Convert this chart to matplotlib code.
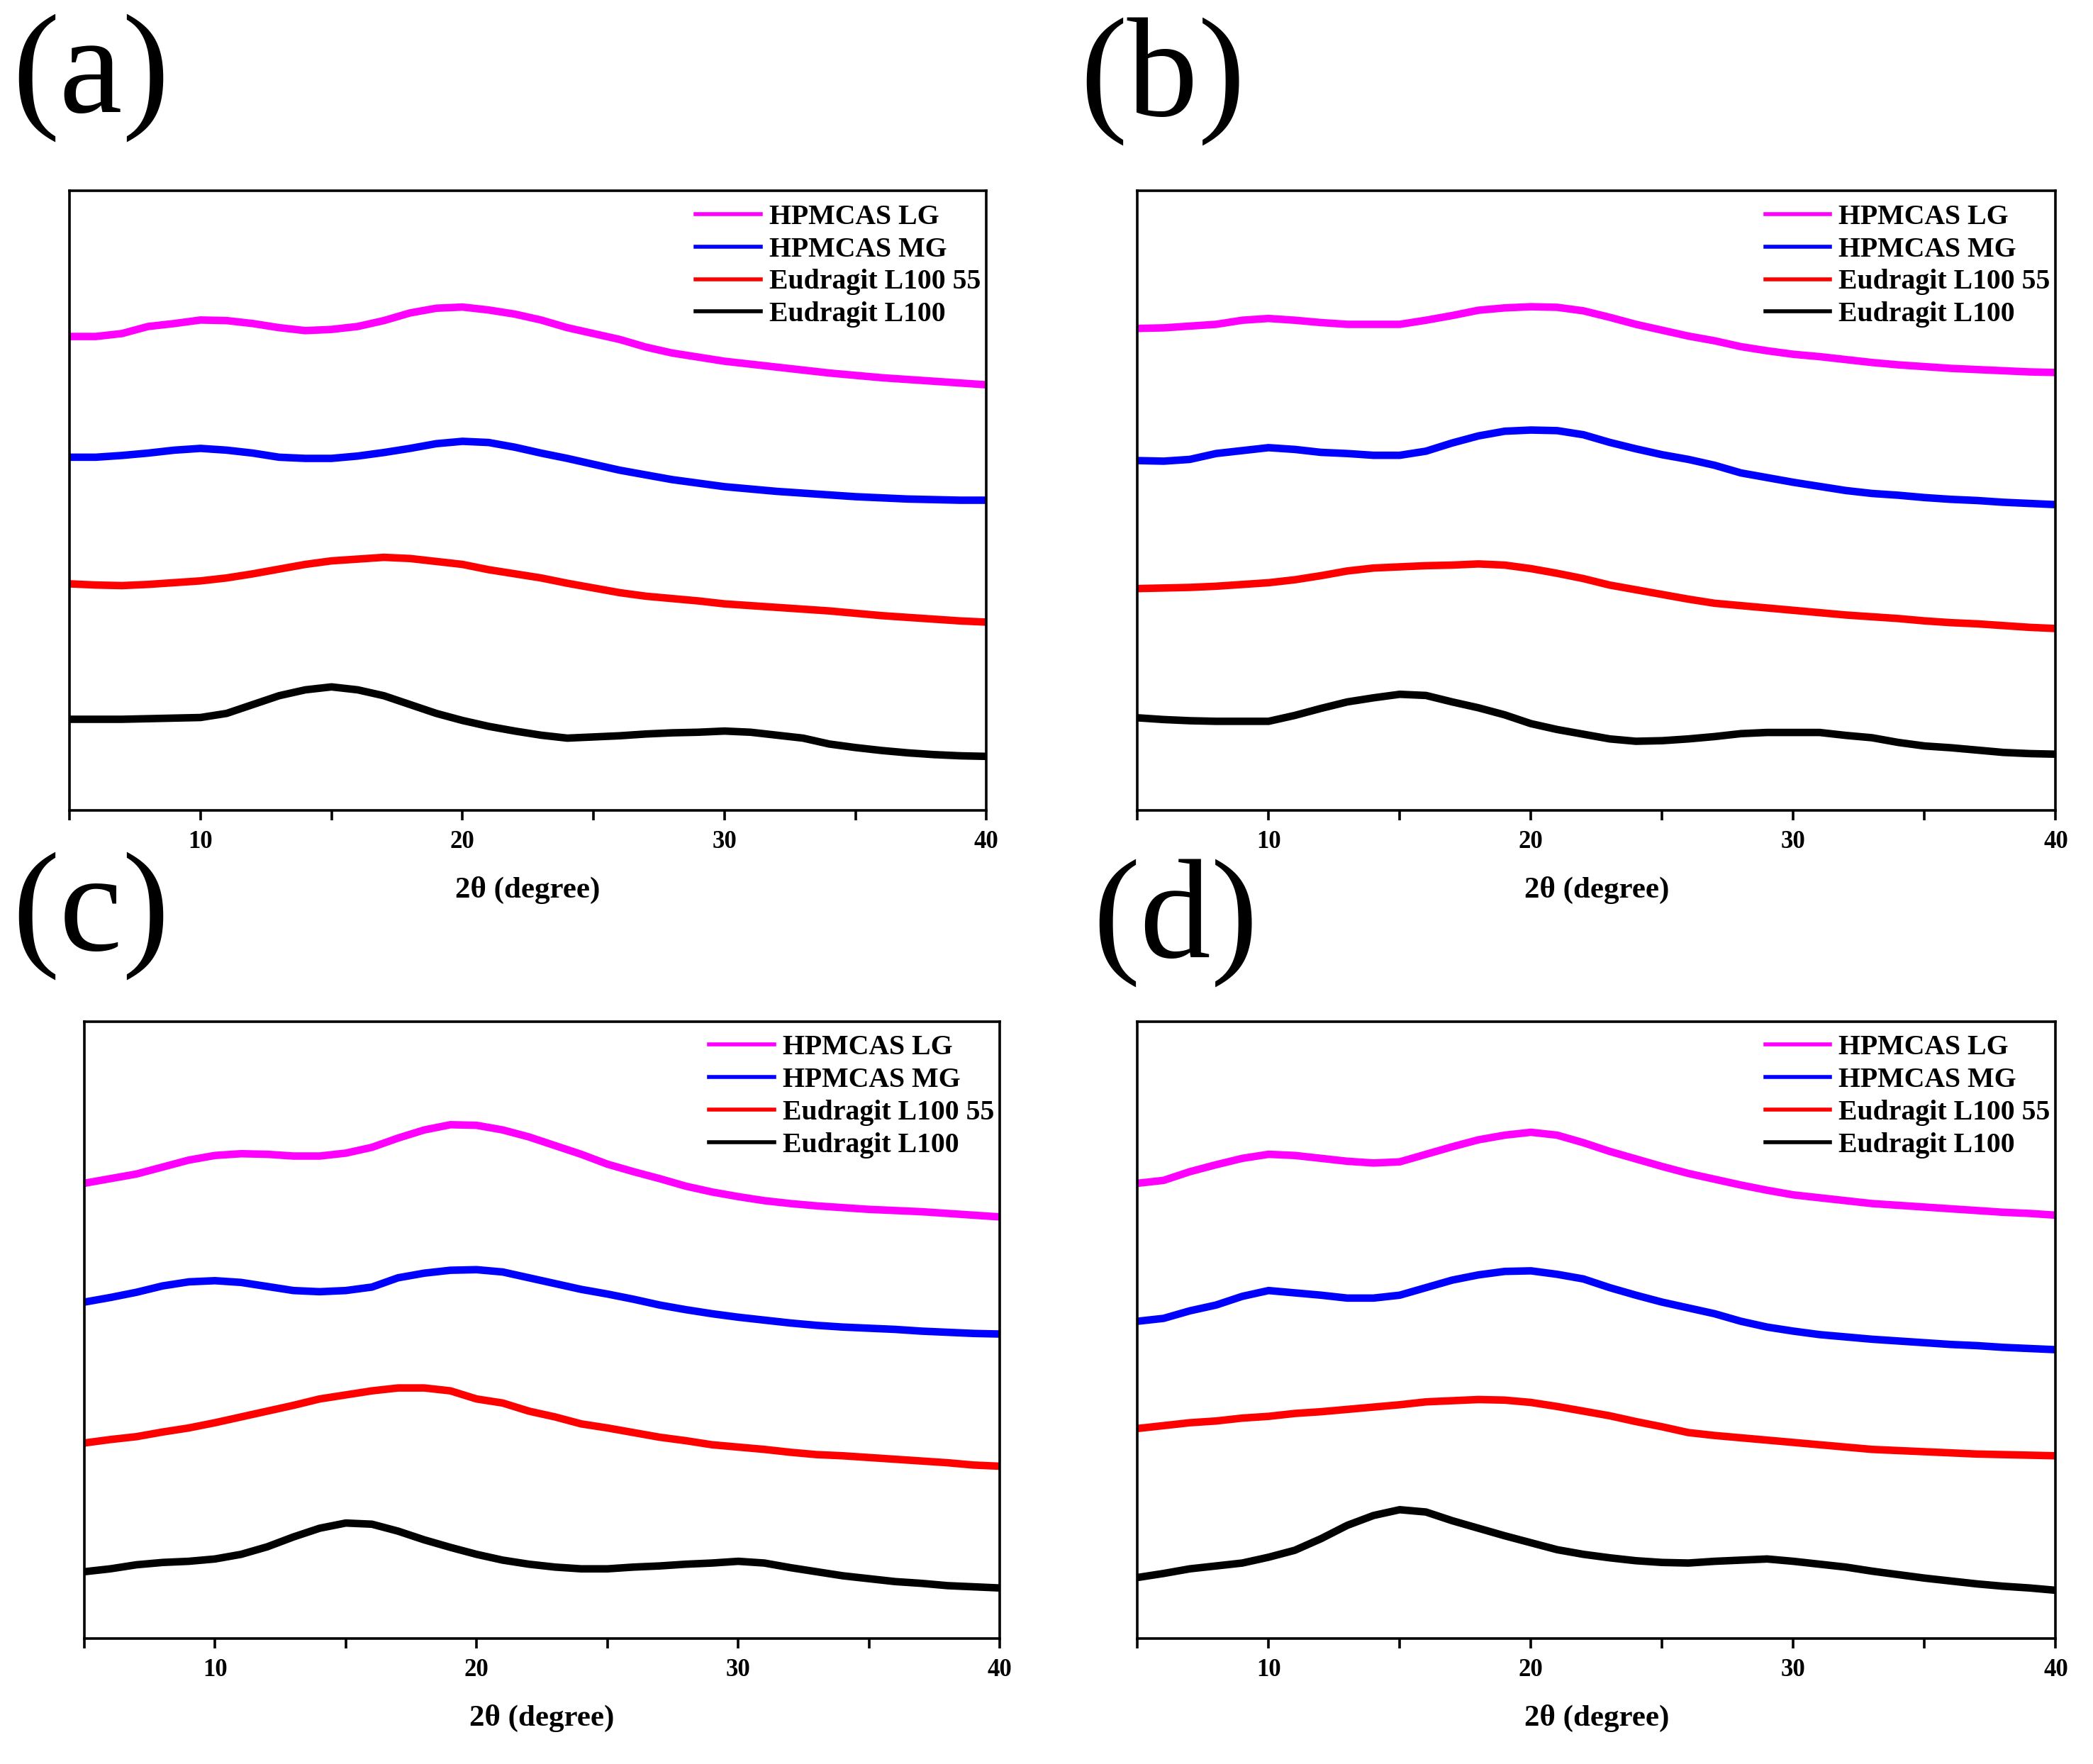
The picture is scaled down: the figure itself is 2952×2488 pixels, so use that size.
import numpy as np
import matplotlib.pyplot as plt
from matplotlib.ticker import MultipleLocator

# 2-theta grid (degrees) at which the curves were read
two_theta = [5, 6, 7, 8, 9, 10, 11, 12, 13, 14, 15, 16, 17, 18, 19, 20, 21, 22,
             23, 24, 25, 26, 27, 28, 29, 30, 31, 32, 33, 34, 35, 36, 37, 38, 39, 40]

labels = ['HPMCAS LG', 'HPMCAS MG', 'Eudragit L100 55', 'Eudragit L100']
colors = ['#ff00ff', '#0000ff', '#ff0000', '#000000']

# --- panel (a) : intensity (a.u., stacked) ---
a_lg = [805, 805, 810, 822, 827, 833, 832, 827, 820, 815, 817, 822, 832, 845, 853, 855, 850, 843,
        833, 820, 810, 800, 787, 777, 770, 763, 758, 753, 748, 743, 739, 735, 732, 729, 726, 723]
a_mg = [600, 600, 603, 607, 612, 615, 612, 607, 600, 598, 598, 602, 608, 615, 623, 627, 625, 617,
        607, 598, 588, 578, 570, 562, 556, 550, 546, 542, 539, 536, 533, 531, 529, 528, 527, 527]
a_l55 = [385, 383, 382, 384, 387, 390, 395, 402, 410, 418, 424, 427, 430, 428, 423, 418, 409, 402,
         395, 386, 378, 370, 364, 360, 356, 351, 348, 345, 342, 339, 335, 331, 328, 325, 322, 320]
a_l100 = [155, 155, 155, 156, 157, 158, 165, 180, 195, 205, 210, 205, 195, 180, 165, 153, 143, 135,
          128, 123, 125, 127, 130, 132, 133, 135, 133, 128, 123, 113, 107, 102, 98, 95, 93, 92]

# --- panel (b) ---
b_lg = [821, 822, 825, 828, 835, 838, 835, 831, 828, 828, 828, 835, 843, 852, 856, 858, 857, 851,
        840, 828, 818, 808, 800, 790, 783, 777, 773, 768, 763, 759, 756, 753, 751, 749, 747, 746]
b_mg = [596, 595, 598, 608, 613, 618, 615, 610, 608, 605, 605, 612, 626, 638, 646, 648, 647, 640,
        627, 616, 606, 598, 588, 575, 567, 559, 552, 545, 540, 537, 533, 530, 528, 525, 523, 521]
b_l55 = [378, 379, 380, 382, 385, 388, 393, 400, 408, 413, 415, 417, 418, 420, 418, 412, 404, 395,
         384, 376, 368, 360, 353, 349, 345, 341, 337, 333, 330, 327, 323, 320, 318, 315, 312, 310]
b_l100 = [158, 155, 153, 152, 152, 152, 162, 174, 185, 192, 198, 196, 185, 175, 163, 148, 138, 130,
          122, 118, 119, 122, 126, 131, 133, 133, 133, 128, 124, 116, 110, 107, 103, 99, 97, 96]

# --- panel (c) ---
c_lg = [785, 793, 801, 813, 825, 833, 836, 835, 832, 832, 837, 847, 863, 877, 886, 885, 877, 865,
        850, 835, 818, 805, 793, 780, 770, 762, 755, 750, 746, 743, 740, 738, 736, 733, 730, 727]
c_mg = [580, 588, 597, 608, 615, 617, 614, 607, 600, 598, 600, 606, 622, 630, 635, 636, 632, 622,
        612, 602, 594, 585, 575, 567, 560, 554, 549, 544, 540, 537, 535, 533, 530, 528, 526, 525]
c_l55 = [337, 343, 348, 356, 363, 372, 382, 392, 402, 413, 420, 427, 432, 432, 427, 413, 406, 392,
         382, 370, 363, 355, 347, 341, 334, 330, 326, 321, 317, 315, 312, 309, 306, 303, 299, 297]
c_l100 = [115, 120, 127, 131, 133, 137, 145, 158, 175, 190, 199, 197, 185, 170, 157, 145, 135, 128,
          123, 120, 120, 123, 125, 128, 130, 133, 130, 122, 115, 108, 103, 98, 95, 91, 89, 87]

# --- panel (d) ---
d_lg = [785, 790, 805, 817, 828, 835, 833, 828, 823, 820, 822, 835, 848, 860, 868, 873, 868, 855,
        840, 827, 814, 802, 792, 782, 773, 765, 760, 755, 750, 747, 744, 741, 738, 735, 733, 730]
d_mg = [547, 552, 565, 575, 590, 600, 596, 592, 587, 587, 592, 605, 618, 627, 633, 634, 628, 620,
        605, 592, 580, 570, 560, 547, 537, 530, 524, 520, 516, 513, 510, 507, 505, 502, 500, 498]
d_l55 = [362, 367, 372, 375, 380, 383, 388, 391, 395, 399, 403, 408, 410, 412, 411, 407, 400, 392,
         384, 374, 365, 355, 350, 346, 342, 338, 334, 330, 326, 324, 322, 320, 318, 317, 316, 315]
d_l100 = [105, 112, 120, 125, 130, 140, 152, 172, 195, 212, 222, 218, 203, 190, 177, 165, 153, 145,
          139, 134, 131, 130, 133, 135, 137, 133, 128, 123, 116, 110, 104, 99, 94, 90, 87, 83]

panels = [
    ('(a)', [a_lg, a_mg, a_l55, a_l100], 1052),
    ('(b)', [b_lg, b_mg, b_l55, b_l100], 1055),
    ('(c)', [c_lg, c_mg, c_l55, c_l100], 1064),
    ('(d)', [d_lg, d_mg, d_l55, d_l100], 1064),
]

serif = 'Liberation Serif'
plt.rcParams['font.family'] = serif

fig = plt.figure(figsize=(14.76, 12.44), dpi=200)

# axes rectangles (figure fractions) and panel letter positions
rects = [
    [0.0332, 0.5405, 0.4381, 0.3512],
    [0.5434, 0.5405, 0.4388, 0.3512],
    [0.0402, 0.0712, 0.4375, 0.3497],
    [0.5434, 0.0712, 0.4388, 0.3497],
]
letter_pos = [(0.006, 0.956), (0.516, 0.954), (0.006, 0.481), (0.522, 0.477)]

for (tag, series, ytop), rect, (lx, ly) in zip(panels, rects, letter_pos):
    ax = fig.add_axes(rect)
    for ys, lab, col in zip(series, labels, colors):
        ax.plot(two_theta, ys, color=col, lw=3.8, label=lab, solid_joinstyle='round')
    ax.set_xlim(5, 40)
    ax.set_ylim(0, ytop)
    ax.xaxis.set_major_locator(MultipleLocator(10))
    ax.xaxis.set_minor_locator(MultipleLocator(5))
    ax.tick_params(axis='x', which='both', direction='out', length=5, width=1.3, pad=5)
    ax.tick_params(axis='y', left=False, labelleft=False)
    for lab in ax.get_xticklabels():
        lab.set_fontweight('bold')
        lab.set_fontsize(12.5)
    for sp in ax.spines.values():
        sp.set_linewidth(1.3)
    ax.set_xlabel('2θ (degree)', fontsize=15.5, fontweight='bold', labelpad=11.5)
    leg = ax.legend(loc='upper right', bbox_to_anchor=(1.006, 0.997), frameon=False,
                    prop={'family': serif, 'weight': 'bold', 'size': 14.3},
                    handlelength=2.3, handletextpad=0.3, labelspacing=0.22, borderaxespad=0.0)
    for h in leg.get_lines():
        h.set_linewidth(2.0)
    fig.text(lx, ly, tag, fontsize=72, family=serif, ha='left', va='center')

plt.savefig('out.png', dpi=200, facecolor='white')
